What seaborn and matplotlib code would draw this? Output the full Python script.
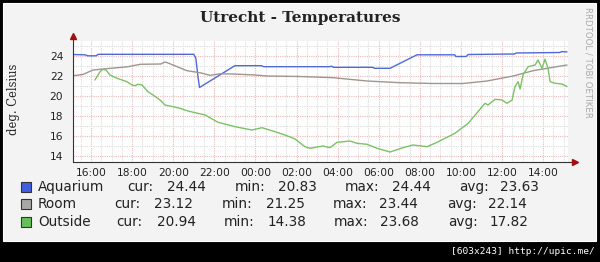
import numpy as np
import pandas as pd
import matplotlib
matplotlib.use("Agg")
import matplotlib.pyplot as plt
from matplotlib.patches import Rectangle
from matplotlib.ticker import FuncFormatter, MultipleLocator
import seaborn as sns

# ---- data (time = hours since midnight of day 1) ----
aq_time = [15.12, 15.70, 15.85, 16.25, 16.35, 21.00, 21.10, 21.20, 21.28, 23.00,
           24.30, 24.40, 27.60, 27.70, 27.80, 29.70, 29.80, 30.55, 31.86, 33.70,
           33.75, 34.25, 34.35, 36.60, 36.70, 38.80, 38.92, 39.16]
aq_temp = [24.15, 24.12, 24.02, 24.02, 24.17, 24.17, 23.80, 22.00, 20.85, 23.03,
           23.03, 22.93, 22.93, 22.98, 22.87, 22.87, 22.77, 22.77, 24.12, 24.12,
           23.95, 23.95, 24.15, 24.20, 24.30, 24.35, 24.44, 24.40]

room_time = [15.12, 15.60, 16.10, 17.80, 18.40, 19.40, 19.60, 19.75, 20.67, 21.30,
             21.79, 22.28, 22.91, 24.00, 24.56, 26.17, 27.78, 29.43, 31.04, 32.64,
             34.10, 35.27, 36.54, 37.51, 38.48, 39.16]
room_temp = [22.03, 22.15, 22.60, 22.93, 23.17, 23.20, 23.40, 23.30, 22.53, 22.33,
             22.07, 22.22, 22.20, 22.10, 22.00, 21.95, 21.83, 21.50, 21.33, 21.25,
             21.25, 21.50, 22.00, 22.53, 22.87, 23.10]

out_time = [16.19, 16.44, 16.58, 16.73, 16.92, 17.27, 17.75, 18.00, 18.14, 18.29,
            18.48, 18.77, 19.02, 19.36, 19.60, 19.99, 20.33, 20.72, 21.55, 22.18,
            23.01, 23.83, 24.32, 24.95, 25.44, 25.93, 26.41, 26.66, 27.29, 27.63,
            27.97, 28.60, 28.94, 29.43, 29.92, 30.55, 31.18, 31.67, 32.35, 32.84,
            33.71, 34.35, 34.83, 35.17, 35.32, 35.66, 36.00, 36.24, 36.49, 36.63,
            36.78, 36.88, 37.02, 37.27, 37.61, 37.75, 37.95, 38.09, 38.24, 38.34,
            38.58, 38.92, 39.16]
out_temp = [21.60, 22.43, 22.67, 22.60, 22.10, 21.77, 21.43, 21.10, 21.03, 21.17,
            21.10, 20.43, 20.10, 19.60, 19.10, 18.93, 18.77, 18.50, 18.10, 17.37,
            16.93, 16.60, 16.83, 16.43, 16.10, 15.70, 14.93, 14.77, 15.00, 14.83,
            15.37, 15.50, 15.27, 15.17, 14.77, 14.40, 14.83, 15.10, 14.93, 15.37,
            16.27, 17.27, 18.43, 19.27, 19.10, 19.67, 19.60, 19.27, 19.60, 20.93,
            21.43, 20.70, 22.10, 22.93, 23.10, 23.60, 22.77, 23.68, 22.77, 21.43,
            21.27, 21.20, 20.94]

series_names = ["Aquarium", "Room", "Outside"]
series_colors = ["#4f6ad8", "#9e9690", "#7ac264"]
swatch_colors = ["#3f5fe0", "#a8a8a4", "#66c05a"]
stat_labels = ["cur:", "min:", "max:", "avg:"]
stat_values = [["24.44", "20.83", "24.44", "23.63"],
               ["23.12", "21.25", "23.44", "22.14"],
               ["20.94", "14.38", "23.68", "17.82"]]
x_ticks = [16, 18, 20, 22, 24, 26, 28, 30, 32, 34, 36, 38]
y_ticks = [14, 16, 18, 20, 22, 24]

df = pd.concat([
    pd.DataFrame({"time": aq_time, "temp": aq_temp, "series": "Aquarium"}),
    pd.DataFrame({"time": room_time, "temp": room_temp, "series": "Room"}),
    pd.DataFrame({"time": out_time, "temp": out_temp, "series": "Outside"}),
], ignore_index=True)

sns.set_style("white")
plt.rcParams["font.family"] = ["DejaVu Sans"]

W, H = 600, 262
fig = plt.figure(figsize=(W / 100, H / 100), dpi=100)
fig.patch.set_facecolor("black")

def fx(px):
    return px / W

def fy(py):
    return 1 - py / H

# light panel
fig.patches.append(Rectangle((fx(3), fy(241)), fx(593), (238) / H, transform=fig.transFigure,
                             facecolor="#f3f3f3", edgecolor="#ffffff", linewidth=0.8, zorder=-5))

ax_l, ax_r, ax_t, ax_b = 73, 568, 40.5, 161.5
ax = fig.add_axes([fx(ax_l), fy(ax_b), (ax_r - ax_l) / W, (ax_b - ax_t) / H])
ax.set_zorder(1)
ax.set_facecolor("white")

sns.lineplot(data=df, x="time", y="temp", hue="series", hue_order=series_names,
             palette=dict(zip(series_names, series_colors)), estimator=None, sort=False,
             legend=False, linewidth=1.0, ax=ax, zorder=3)

ax.set_xlim(15.124, 39.21)
ax.set_ylim(13.45, 25.55)

# grid
ax.xaxis.set_major_locator(MultipleLocator(2))
ax.xaxis.set_minor_locator(MultipleLocator(0.5))
ax.yaxis.set_major_locator(MultipleLocator(2))
ax.yaxis.set_minor_locator(MultipleLocator(1))
ax.grid(which="minor", color="#dcdcdc", linestyle=(0, (1, 1)), linewidth=0.8, zorder=1)
ax.grid(which="major", color="#eab9b9", linestyle=(0, (1, 1)), linewidth=0.8, zorder=1)
ax.set_xticks(x_ticks)
ax.set_yticks(y_ticks)
ax.xaxis.set_major_formatter(FuncFormatter(lambda v, p: f"{int(round(v)) % 24:02d}:00"))
ax.yaxis.set_major_formatter(FuncFormatter(lambda v, p: f"{int(round(v))}"))
ax.tick_params(axis="both", which="major", length=2, width=0.6, color="#888888",
               labelsize=7.7, labelcolor="#222222", pad=3)
ax.tick_params(axis="both", which="minor", length=0)
ax.tick_params(axis="y", pad=5)
for s in ax.spines.values():
    s.set_visible(False)
ax.set_xlabel("")
ax.set_ylabel("")

# axes lines with arrows
ax.plot([0, 1.012], [0, 0], transform=ax.transAxes, color="#333333", lw=0.8, clip_on=False, zorder=4)
ax.plot([0, 0], [0, 1.03], transform=ax.transAxes, color="#333333", lw=0.8, clip_on=False, zorder=4)
ax.plot([1.014], [0], transform=ax.transAxes, marker=">", color="#a01010", markersize=4,
        clip_on=False, zorder=5)
ax.plot([0], [1.035], transform=ax.transAxes, marker="^", color="#a01010", markersize=4,
        clip_on=False, zorder=5)

# title and labels
fig.text(fx(300), fy(18), "Utrecht - Temperatures", ha="center", va="center",
         fontsize=11, fontweight="bold", family="DejaVu Serif", color="#222222")
fig.text(fx(13), fy(99), "deg. Celsius", ha="center", va="center", rotation=90,
         fontsize=8.3, family="DejaVu Serif", color="#222222")
fig.text(fx(588), fy(62), "RRDTOOL / TOBI OETIKER", ha="center", va="center", rotation=270,
         fontsize=6.2, color="#aaaaaa")

# legend rows
row_y = [187, 204, 222]
name_x = [38, 38, 38]
stat_x = [[127, 235, 345, 459], [114, 222, 333, 447], [116, 224, 334, 448]]
val_x = [[167, 278, 392, 500], [154, 266, 379, 488], [157, 268, 380, 490]]
for i, name in enumerate(series_names):
    y = row_y[i]
    fig.patches.append(Rectangle((fx(21), fy(y + 5)), 10 / W, 10 / H, transform=fig.transFigure,
                                 facecolor=swatch_colors[i], edgecolor="#333333", linewidth=0.8,
                                 zorder=2))
    fig.text(fx(name_x[i]), fy(y), name, ha="left", va="center", fontsize=9.8, color="#222222")
    for j in range(4):
        fig.text(fx(stat_x[i][j]), fy(y), stat_labels[j], ha="left", va="center",
                 fontsize=9.8, color="#222222")
        fig.text(fx(val_x[i][j]), fy(y), stat_values[i][j], ha="left", va="center",
                 fontsize=9.8, color="#222222")

# footer
fig.text(fx(595), fy(252), "[603x243] http://upic.me/", ha="right", va="center",
         fontsize=6.8, family="DejaVu Sans Mono", color="white")

fig.savefig("out.png", dpi=100, facecolor=fig.get_facecolor())
